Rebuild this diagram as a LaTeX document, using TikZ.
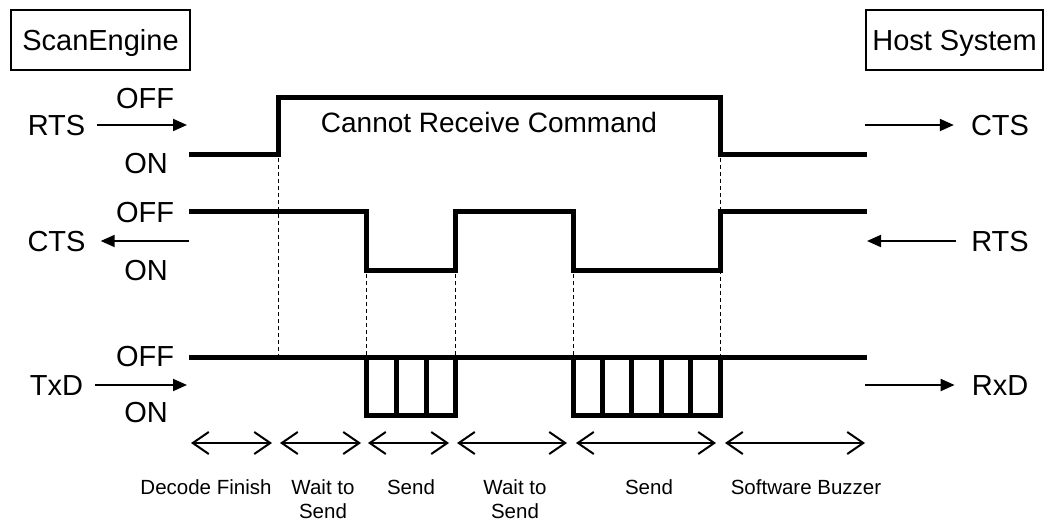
\documentclass[tikz,border=0pt]{standalone}
\usepackage{fontspec}
\setmainfont{Liberation Sans}
\usetikzlibrary{arrows.meta}
\tikzset{
	lvl/.style={line width=5pt, line join=miter},
	cut/.style={line width=1pt, dash pattern=on 4pt off 3pt},
	big/.style={inner sep=0pt, font=\fontsize{29}{34}\selectfont, text height=21pt, text depth=0pt},
	sml/.style={inner sep=0pt, anchor=north, align=center, font=\fontsize{20.5}{24.5}\selectfont},
	pin/.style={line width=2pt, -{Triangle[length=14pt,width=12pt]}},
	span/.style={line width=2pt, {Straight Barb[length=16pt,width=22pt]}-{Straight Barb[length=16pt,width=22pt]}},
	side/.style={draw, line width=2.5pt, inner sep=0pt, minimum height=60pt, font=\fontsize{29}{34}\selectfont, text height=21pt, text depth=0pt}
}

\begin{document}
\begin{tikzpicture}[x=1pt, y=-1pt]
			%%%%% START %%%%%
			\useasboundingbox (0,0) rectangle (1049,521);
			
			\node[side, minimum width=179pt] (engine) at (100.5,40) {ScanEngine};
			\node[side, minimum width=177pt] (host) at (954.5,40) {Host System};
			
			% left side
			\node[big] (rtsL) at (56.5,125) {RTS};
			\node[big] (rtsOff) at (145,98) {OFF};
			\node[big] (rtsOn) at (146,163) {ON};
			\coordinate (rtsTip) at (187,125);
			\draw[pin] ([xshift=12pt]rtsL.east) -- (rtsTip);
			
			\node[big] (ctsL) at (56.5,241) {CTS};
			\node[big] (ctsOff) at (145,212) {OFF};
			\node[big] (ctsOn) at (146,270) {ON};
			\coordinate (ctsTail) at (189,241);
			\draw[pin] (ctsTail) -- ([xshift=15pt]ctsL.east);
			
			\node[big] (txdL) at (56.5,385) {TxD};
			\node[big] (txdOff) at (145,356) {OFF};
			\node[big] (txdOn) at (146,412) {ON};
			\coordinate (txdTip) at (187,385);
			\draw[pin] ([xshift=12pt]txdL.east) -- (txdTip);
			
			% right side
			\node[big] (ctsR) at (1000,125) {CTS};
			\coordinate (ctsOut) at (865,125);
			\draw[pin] (ctsOut) -- ([xshift=-17pt]ctsR.west);
			
			\node[big] (rtsR) at (1000,241) {RTS};
			\coordinate (rtsIn) at (867,241);
			\draw[pin] ([xshift=-15pt]rtsR.west) -- (rtsIn);
			
			\node[big] (rxdR) at (1000,385) {RxD};
			\coordinate (rxdOut) at (865,385);
			\draw[pin] (rxdOut) -- ([xshift=-17pt]rxdR.west);
			
			% guide lines
			\draw[cut] (278,158) -- (278,357);
			\draw[cut] (720,158) -- (720,357);
			\foreach \x in {366,455,573}
				\draw[cut] (\x,274) -- (\x,357);
			
			% signals
			\draw[lvl] (189,155) -- (278,155) -- (278,98) -- (720,98) -- (720,155) -- (867,155);
			\node[big, font=\fontsize{28}{33}\selectfont, text height=20pt] (busy) at (489,123) {Cannot Receive Command};
			
			\draw[lvl] (189,212) -- (366,212) -- (366,271) -- (455,271) -- (455,212) -- (573,212) -- (573,271) -- (720,271) -- (720,212) -- (867,212);
			
			\draw[lvl] (189,357) -- (867,357);
			\draw[lvl] (366,357) rectangle (455,415);
			\foreach \x in {396,426}
				\draw[lvl] (\x,357) -- (\x,415);
			\draw[lvl] (573,357) rectangle (720,415);
			\foreach \x in {602.4,631.8,661.2,690.6}
				\draw[lvl] (\x,357) -- (\x,415);
			
			% phases
			\foreach \a/\b in {191/272, 280/361, 368/449, 457/567, 576/716, 725/865}
				\draw[span] (\a,443) -- (\b,443);
			
			\node[sml] (decode) at (206,479) {Decode Finish};
			\node[sml] (waitA) at (323,479) {Wait to\\Send};
			\node[sml] (sendA) at (411,479) {Send};
			\node[sml] (waitB) at (515,479) {Wait to\\Send};
			\node[sml] (sendB) at (649,479) {Send};
			\node[sml] (buzzer) at (806,479) {Software Buzzer};
			
			%%%%% END %%%%%
\end{tikzpicture}
\end{document}
